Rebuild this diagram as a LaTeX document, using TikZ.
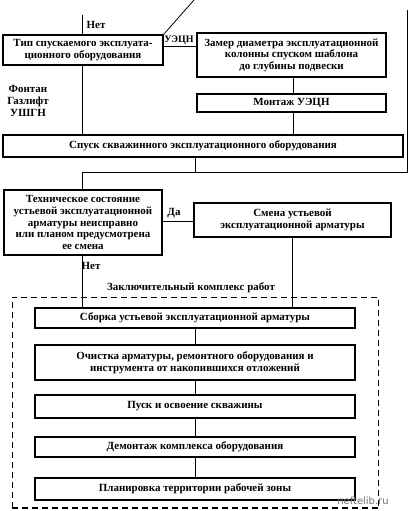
\documentclass[tikz,border=0pt]{standalone}
\usepackage{fontspec}
\setmainfont{Liberation Serif}
\newfontfamily\wmfont{DejaVu Sans}
\begin{document}
\begin{tikzpicture}[x=1bp,y=-1bp,
  box/.style={draw,line width=1.1pt,align=center,inner sep=0pt,font=\fontsize{11}{11.6}\selectfont\bfseries},
  tbox/.style={box,line width=1.8pt},
  lbl/.style={font=\fontsize{11}{11.6}\selectfont\bfseries,align=center,inner sep=0pt},
  conn/.style={line width=0.8pt},
  frame/.style={line width=0.8pt,dash pattern=on 6bp off 4bp}]
\useasboundingbox (0,0) rectangle (408,511);
% boxes
\node[tbox,minimum width=160bp,minimum height=30bp] (b1) at (83,50) {Тип спускаемого эксплуата-\\ционного оборудования};
\node[box,minimum width=189bp,minimum height=44bp] (b2) at (291.5,55) {Замер диаметра эксплуатационной\\колонны спуском шаблона\\до глубины подвески};
\node[box,minimum width=189bp,minimum height=18bp] (b3) at (291.5,103) {Монтаж УЭЦН};
\node[box,minimum width=400bp,minimum height=22bp] (b4) at (203,146) {Спуск скважинного эксплуатационного оборудования};
\node[tbox,minimum width=158bp,minimum height=65bp] (b5) at (83,222.5) {Техническое состояние\\устьевой эксплуатационной\\арматуры неисправно\\или планом предусмотрена\\ее смена};
\node[box,minimum width=197bp,minimum height=34bp] (b6) at (292.5,220) {Смена устьевой\\эксплуатационной арматуры};
\coordinate (fTL) at (12,297);
\coordinate (fTR) at (378,297);
\coordinate (fBL) at (12,508);
\coordinate (fBR) at (378,508);
\draw[frame] (fBL) -- (fTL) -- (fTR) -- (fBR);
\draw[frame,line width=1.6pt] (fBL) -- (fBR);
\node[tbox,minimum width=320bp,minimum height=20bp] (b7) at (195,318) {Сборка устьевой эксплуатационной арматуры};
\node[tbox,minimum width=320bp,minimum height=35bp] (b8) at (195,362.5) {Очистка арматуры, ремонтного оборудования и\\инструмента от накопившихся отложений};
\node[tbox,minimum width=320bp,minimum height=23bp] (b9) at (195,406.5) {Пуск и освоение скважины};
\node[tbox,minimum width=320bp,minimum height=20bp] (b10) at (195,447) {Демонтаж комплекса оборудования};
\node[tbox,minimum width=320bp,minimum height=22bp] (b11) at (195,489) {Планировка территории рабочей зоны};
% labels
\node[lbl] (l1) at (96,25) {Нет};
\node[lbl,font=\fontsize{10}{11}\selectfont\bfseries] (l2) at (179,40) {УЭЦН};
\node[lbl] (l3) at (28,101) {Фонтан\\Газлифт\\УШГН};
\node[lbl] (l4) at (174,213) {Да};
\node[lbl] (l5) at (91,266) {Нет};
\node[lbl] (l6) at (191,288) {Заключительный комплекс работ};
\node[font=\wmfont\fontsize{10}{11}\selectfont,text=black!55,inner sep=0pt] (wm) at (363,501) {neftelib.ru};
% coordinates
\coordinate (top) at (82,15);
\coordinate (diag) at (194,0);
\coordinate (loopA) at (195,172);
\coordinate (loopL) at (82,172);
\coordinate (loopR) at (407,172);
\coordinate (loopT) at (407,10);
% connectors
\draw[conn] (top) -- (b1.north -| top);
\draw[conn] (b1.north east) -- (diag);
\draw[conn] (b1.east |- 0,46.5) -- (b2.west |- 0,46.5);
\draw[conn] (b1.south -| top) -- (b4.north -| top);
\draw[conn] (b2.south -| 293,0) -- (b3.north -| 293,0);
\draw[conn] (b3.south -| 293,0) -- (b4.north -| 293,0);
\draw[conn] (b4.south -| loopA) -- (loopA);
\draw[conn] (loopL) -- (loopR) -- (loopT);
\draw[conn] (loopL) -- (b5.north -| loopL);
\draw[conn] (b5.east |- 0,221) -- (b6.west |- 0,221);
\draw[conn] (b5.south -| loopL) -- (b7.north -| loopL);
\draw[conn] (b6.south -| 292,0) -- (b7.north -| 292,0);
\draw[conn] (b7) -- (b8);
\draw[conn] (b8) -- (b9);
\draw[conn] (b9) -- (b10);
\draw[conn] (b10) -- (b11);
\end{tikzpicture}
\end{document}
